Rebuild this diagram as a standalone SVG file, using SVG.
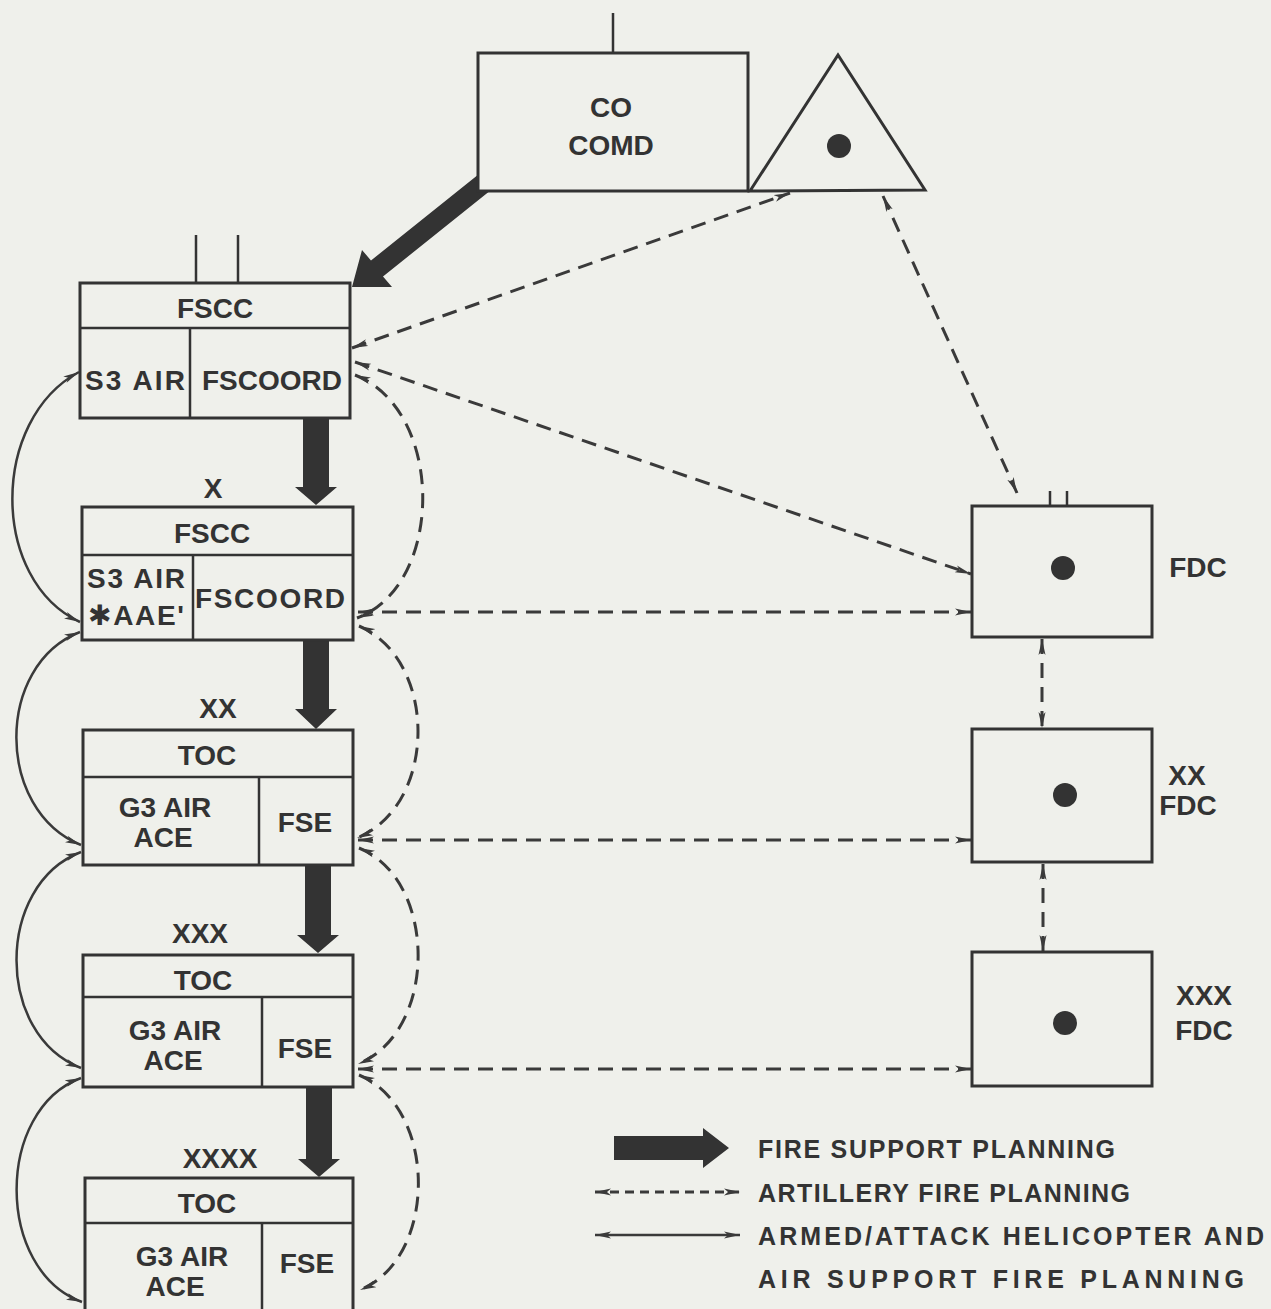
<svg xmlns="http://www.w3.org/2000/svg" width="1271" height="1309" viewBox="0 0 1271 1309">
<style>
.bx{fill:#eff0eb;stroke:#333;stroke-width:3}
.ln{stroke:#333;stroke-width:2.5;fill:none}
.t{font-family:"Liberation Sans","DejaVu Sans",sans-serif;font-weight:bold;font-size:28px;fill:#333;text-anchor:middle}
.lg{font-family:"Liberation Sans","DejaVu Sans",sans-serif;font-weight:bold;font-size:25px;fill:#333}
.dash{stroke:#3a3a3a;stroke-width:3;fill:none;stroke-dasharray:15 9;marker-start:url(#ah);marker-end:url(#ah)}
.sol{stroke:#3a3a3a;stroke-width:2.5;fill:none;marker-start:url(#ah);marker-end:url(#ah)}
.thick{fill:#333}
.dot{fill:#333}
</style>
<defs>
<marker id="ah" viewBox="0 0 16 8" refX="16" refY="4" markerWidth="16" markerHeight="8" markerUnits="userSpaceOnUse" orient="auto-start-reverse">
<path d="M0,0.5 L16,4 L0,7.5 L4,4 z" fill="#3a3a3a"/>
</marker>
</defs>
<rect width="1271" height="1309" fill="#eff0eb"/>

<g id="connectors">
<polygon class="thick" points="479,174 491,190 383,276.5 392,287 352,287 362,250 371,260.5"/>
<polygon class="thick" points="303,418 329,418 329,487 337,487 316,505 295,487 303,487"/>
<polygon class="thick" points="303,640 329,640 329,709 337,709 316,729 295,709 303,709"/>
<polygon class="thick" points="305,865 331,865 331,935 339,935 318,953 297,935 305,935"/>
<polygon class="thick" points="306,1087 332,1087 332,1159 340,1159 319,1177 298,1159 306,1159"/>
<path class="dash" d="M352,348 L790,193"/>
<path class="dash" d="M355,362 L971,574"/>
<path class="dash" d="M883,196 L1017,493"/>
<path class="dash" d="M358,612 L971,612"/>
<path class="dash" d="M358,840 L971,840"/>
<path class="dash" d="M358,1069 L971,1069"/>
<path class="dash" d="M1042,639 L1042,728"/>
<path class="dash" d="M1043,864 L1043,951"/>
<path class="dash" d="M355,375 C445,410 445,585 357,618"/>
<path class="dash" d="M359,626 C438,660 438,805 357,838"/>
<path class="dash" d="M359,848 C438,880 438,1032 358,1064"/>
<path class="dash" d="M359,1075 C438,1108 438,1258 360,1290"/>
<path class="sol" d="M79,372 C-10,420 -10,580 80,622"/>
<path class="sol" d="M80,632 C-5,665 -5,810 81,845"/>
<path class="sol" d="M81,852 C-5,885 -5,1035 81,1068"/>
<path class="sol" d="M81,1078 C-5,1110 -5,1270 82,1302"/>
</g>

<g id="co-comd">
<line class="ln" x1="613" y1="13" x2="613" y2="53"/>
<rect class="bx" x="478" y="53" width="270" height="138"/>
<text class="t" x="611" y="117">CO</text>
<text class="t" x="611" y="155">COMD</text>
</g>

<g id="artillery-triangle">
<polygon class="bx" points="750,191 838,55 925,190"/>
<circle class="dot" cx="839" cy="146" r="12"/>
</g>

<g id="fscc-1">
<line class="ln" x1="196" y1="235" x2="196" y2="283"/>
<line class="ln" x1="238" y1="235" x2="238" y2="283"/>
<rect class="bx" x="80" y="283" width="270" height="135"/>
<line class="ln" x1="80" y1="328" x2="350" y2="328"/>
<line class="ln" x1="190" y1="328" x2="190" y2="418"/>
<text class="t" x="215" y="318">FSCC</text>
<text class="t" x="135" y="390" textLength="100">S3 AIR</text>
<text class="t" x="272" y="390" textLength="140">FSCOORD</text>
</g>

<g id="fscc-x">
<text class="t" x="213" y="498">X</text>
<rect class="bx" x="82" y="507" width="271" height="133"/>
<line class="ln" x1="82" y1="555" x2="353" y2="555"/>
<line class="ln" x1="193" y1="555" x2="193" y2="640"/>
<text class="t" x="212" y="543">FSCC</text>
<text class="t" x="136" y="588" textLength="98">S3 AIR</text>
<text class="t" x="136" y="625" textLength="96">✱AAE'</text>
<text class="t" x="270" y="608" textLength="150">FSCOORD</text>
</g>

<g id="toc-xx">
<text class="t" x="218" y="718">XX</text>
<rect class="bx" x="83" y="730" width="270" height="135"/>
<line class="ln" x1="83" y1="777" x2="353" y2="777"/>
<line class="ln" x1="259" y1="777" x2="259" y2="865"/>
<text class="t" x="207" y="765">TOC</text>
<text class="t" x="165" y="817">G3 AIR</text>
<text class="t" x="163" y="847">ACE</text>
<text class="t" x="305" y="832">FSE</text>
</g>

<g id="toc-xxx">
<text class="t" x="200" y="943">XXX</text>
<rect class="bx" x="83" y="955" width="270" height="132"/>
<line class="ln" x1="83" y1="997" x2="353" y2="997"/>
<line class="ln" x1="262" y1="997" x2="262" y2="1087"/>
<text class="t" x="203" y="990">TOC</text>
<text class="t" x="175" y="1040">G3 AIR</text>
<text class="t" x="173" y="1070">ACE</text>
<text class="t" x="305" y="1058">FSE</text>
</g>

<g id="toc-xxxx">
<text class="t" x="220" y="1168">XXXX</text>
<rect class="bx" x="85" y="1178" width="268" height="135"/>
<line class="ln" x1="85" y1="1223" x2="353" y2="1223"/>
<line class="ln" x1="262" y1="1223" x2="262" y2="1313"/>
<text class="t" x="207" y="1213">TOC</text>
<text class="t" x="182" y="1266">G3 AIR</text>
<text class="t" x="175" y="1296">ACE</text>
<text class="t" x="307" y="1273">FSE</text>
</g>

<g id="fdc">
<line class="ln" x1="1050" y1="491" x2="1050" y2="506"/>
<line class="ln" x1="1067" y1="491" x2="1067" y2="506"/>
<rect class="bx" x="972" y="506" width="180" height="131"/>
<circle class="dot" cx="1063" cy="568" r="12"/>
<text class="t" x="1198" y="577">FDC</text>
</g>

<g id="fdc-xx">
<rect class="bx" x="972" y="729" width="180" height="133"/>
<circle class="dot" cx="1065" cy="795" r="12"/>
<text class="t" x="1187" y="785">XX</text>
<text class="t" x="1188" y="815">FDC</text>
</g>

<g id="fdc-xxx">
<rect class="bx" x="972" y="952" width="180" height="134"/>
<circle class="dot" cx="1065" cy="1023" r="12"/>
<text class="t" x="1204" y="1005">XXX</text>
<text class="t" x="1204" y="1040">FDC</text>
</g>

<g id="legend">
<polygon class="thick" points="614,1136 703,1136 703,1128 729,1148 703,1168 703,1160 614,1160"/>
<path d="M595,1192 L740,1192" stroke="#3a3a3a" stroke-width="3" fill="none" stroke-dasharray="9 6" marker-start="url(#ah)" marker-end="url(#ah)"/>
<path d="M595,1235 L740,1235" stroke="#3a3a3a" stroke-width="2.5" fill="none" marker-start="url(#ah)" marker-end="url(#ah)"/>
<text class="lg" x="758" y="1158" textLength="357">FIRE SUPPORT PLANNING</text>
<text class="lg" x="758" y="1202" textLength="372">ARTILLERY FIRE PLANNING</text>
<text class="lg" x="758" y="1245" textLength="506">ARMED/ATTACK HELICOPTER AND</text>
<text class="lg" x="758" y="1288" textLength="486">AIR SUPPORT FIRE PLANNING</text>
</g>
</svg>
